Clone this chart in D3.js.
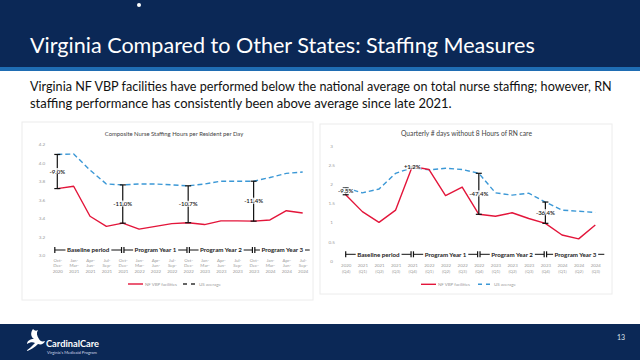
<!DOCTYPE html>
<html><head><meta charset="utf-8">
<script src="https://cdn.jsdelivr.net/npm/d3@7"></script>
<style>
html,body{margin:0;padding:0;background:#fff;}
svg{display:block;font-family:Lato, "Open Sans", sans-serif;}
</style></head>
<body>
<svg id="c" width="640" height="360"></svg>
<script>
// ---------- DATA ----------
const titleText = "Virginia Compared to Other States: Staffing Measures";
const bodyLines = [
  "Virginia NF VBP facilities have performed below the national average on total nurse staffing; however, RN",
  "staffing performance has consistently been above average since late 2021."
];
const leftTitle = "Composite Nurse Staffing Hours per Resident per Day";
const rightTitle = "Quarterly # days without 8 Hours of RN care";
const seriesNames = ["NF VBP facilities", "US average"];

const leftCategories = [
  ["Oct-","Dec-","2020"],["Jan-","Mar-","2021"],["Apr-","Jun-","2021"],["Jul-","Sep-","2021"],
  ["Oct-","Dec-","2021"],["Jan-","Mar-","2022"],["Apr-","Jun-","2022"],["Jul-","Sep-","2022"],
  ["Oct-","Dec-","2022"],["Jan-","Mar-","2023"],["Apr-","Jun-","2023"],["Jul-","Sep-","2023"],
  ["Oct-","Dec-","2023"],["Jan-","Mar-","2024"],["Apr-","Jun-","2024"],["Jul-","Sep-","2024"]
];
const leftVA = [3.72,3.745,3.42,3.31,3.345,3.28,3.31,3.34,3.35,3.33,3.37,3.37,3.367,3.38,3.48,3.455];
const leftUS = [4.09,4.095,3.92,3.77,3.76,3.77,3.77,3.76,3.75,3.77,3.80,3.80,3.80,3.84,3.885,3.90];
const leftTicks = [3.0,3.2,3.4,3.6,3.8,4.0,4.2];
const leftGaps = [
  {i:0, label:"-9.0%"}, {i:4, label:"-11.0%"}, {i:8, label:"-10.7%"}, {i:12, label:"-11.4%"}
];

const rightCategories = [
  ["2020","(Q4)"],["2021","(Q1)"],["2021","(Q2)"],["2021","(Q3)"],["2021","(Q4)"],
  ["2022","(Q1)"],["2022","(Q2)"],["2022","(Q3)"],["2022","(Q4)"],["2023","(Q1)"],
  ["2023","(Q2)"],["2023","(Q3)"],["2023","(Q4)"],["2024","(Q1)"],["2024","(Q2)"],["2024","(Q3)"]
];
const rightVA = [1.72,1.28,1.00,1.32,2.46,2.38,1.70,1.92,1.21,1.16,1.25,1.10,0.975,0.67,0.57,0.93];
const rightUS = [1.90,1.77,1.87,2.28,2.43,2.37,2.41,2.38,2.28,1.77,1.71,1.76,1.53,1.32,1.29,1.26];
const rightTicks = [0,0.5,1,1.5,2,2.5,3];
const rightGaps = [
  {i:0, label:"-9.5%"}, {i:4, label:"+1.2%"}, {i:8, label:"-47.4%"}, {i:12, label:"-36.4%"}
];

const periods = [
  {name:"Baseline period", from:0, to:4},
  {name:"Program Year 1", from:4, to:8},
  {name:"Program Year 2", from:8, to:12},
  {name:"Program Year 3", from:12, to:16}
];

// ---------- STYLE ----------
const NAVY = "#0b2856";
const RED = "#e3153a";
const BLUE = "#3b98d6";
const GREY = "#9a9a9a";

const svg = d3.select("#c");

function fitWidth(sel, w){
  const n = sel.node();
  const fs = parseFloat(sel.attr("font-size"));
  const len = n.getComputedTextLength();
  if (len > 0) sel.attr("font-size", fs * w / len);
  return sel;
}

// header
svg.append("rect").attr("x",0).attr("y",0).attr("width",640).attr("height",68).attr("fill",NAVY);
svg.append("rect").attr("x",0).attr("y",67).attr("width",640).attr("height",4).attr("fill","#1f6db3");
fitWidth(svg.append("text").attr("x",30).attr("y",53).attr("fill","#fff")
  .attr("font-size",24).text(titleText), 505);

// cursor dot
svg.append("circle").attr("cx",139).attr("cy",5).attr("r",2).attr("fill","#fff");

// body text
const bodyW = [582, 422];
bodyLines.forEach((t,k)=>{
  fitWidth(svg.append("text").attr("x",30).attr("y",91 + k*17).attr("fill","#111")
    .attr("font-size",13).text(t), bodyW[k]);
});

// footer
svg.append("rect").attr("x",0).attr("y",324).attr("width",640).attr("height",36).attr("fill",NAVY);
svg.append("path").attr("fill","#fff")
  .attr("d","M33,329 C30,333 31,337 34,339 C30,339 27,341 27,344 C30,342 33,342 35,343 C32,346 29,349 26,351 C31,350 35,347 38,344 C41,345 44,344 45,341 C42,342 40,341 39,339 C37,336 36,333 38,330 C36,331 35,331 33,329 Z");
fitWidth(svg.append("text").attr("x",46).attr("y",347).attr("fill","#fff").attr("font-weight",700)
  .attr("font-size",10).text("CardinalCare"), 53);
fitWidth(svg.append("text").attr("x",47).attr("y",354).attr("fill","#cfd8e6")
  .attr("font-size",3.5).text("Virginia's Medicaid Program"), 50);
svg.append("text").attr("x",621).attr("y",340).attr("fill","#dde4ee").attr("font-size",7)
  .attr("text-anchor","middle").text("13");

// panels
svg.append("rect").attr("x",22).attr("y",122).attr("width",291).attr("height",178)
  .attr("fill","#fff").attr("stroke","#ececec").attr("stroke-width",1);
svg.append("rect").attr("x",320).attr("y",124).attr("width",292).attr("height",170)
  .attr("fill","#fff").attr("stroke","#ececec").attr("stroke-width",1);

function drawChart(cfg){
  const g = svg.append("g");
  const idx = d3.range(cfg.cats.length);
  const x = d3.scalePoint().domain(idx).range(cfg.xr);
  const y = d3.scaleLinear().domain(cfg.yd).range(cfg.yr);

  // title
  fitWidth(g.append("text").attr("x",cfg.titleX).attr("y",cfg.titleY).attr("text-anchor","middle")
    .attr("fill","#444").attr("font-size",6).text(cfg.title), cfg.titleW);

  // y axis labels
  const ya = g.append("g").attr("transform",`translate(${cfg.yLabelX},0)`)
    .call(d3.axisLeft(y).tickValues(cfg.ticks).tickSize(0).tickFormat(cfg.fmt));
  ya.select(".domain").remove();
  ya.selectAll("text").attr("fill",GREY).attr("font-size",4.6).attr("text-anchor","middle")
    .attr("x",0).attr("font-family","Lato, sans-serif");

  // x axis labels
  const xa = g.append("g").attr("transform",`translate(0,${cfg.xLabelY})`)
    .call(d3.axisBottom(x).tickSize(0).tickFormat(""));
  xa.select(".domain").remove();
  xa.selectAll(".tick text").each(function(d){
    const t = d3.select(this).attr("fill",GREY).attr("font-size",4.4).attr("y",0).attr("dy",0)
      .attr("font-family","Lato, sans-serif");
    cfg.cats[d].forEach((s,k)=>{
      t.append("tspan").attr("x",0).attr("y",k*cfg.lineH).text(s);
    });
  });

  // lines
  const line = d3.line().x((d,i)=>x(i)).y(d=>y(d));
  g.append("path").datum(cfg.us).attr("d",line).attr("fill","none").attr("stroke",BLUE)
    .attr("stroke-width",1.4).attr("stroke-dasharray","5,3");
  g.append("path").datum(cfg.va).attr("d",line).attr("fill","none").attr("stroke",RED)
    .attr("stroke-width",1.4).attr("stroke-linejoin","round");

  // gap bars
  cfg.gaps.forEach(gp=>{
    const xx = x(gp.i), y1 = y(cfg.us[gp.i]), y2 = y(cfg.va[gp.i]);
    g.append("line").attr("x1",xx).attr("x2",xx).attr("y1",y1).attr("y2",y2)
      .attr("stroke","#111").attr("stroke-width",1.2);
    [y1,y2].forEach(yy=>g.append("line").attr("x1",xx-3).attr("x2",xx+3).attr("y1",yy).attr("y2",yy)
      .attr("stroke","#111").attr("stroke-width",1.2));
    const lab = g.append("text").attr("x",xx).attr("y",(y1+y2)/2+2).attr("text-anchor","middle")
      .attr("font-size",cfg.gapFont).attr("font-weight",600).attr("fill","#111").text(gp.label);
    const bb = lab.node().getBBox();
    g.insert("rect", function(){ return lab.node(); })
      .attr("x",bb.x-0.5).attr("y",bb.y+0.5).attr("width",bb.width+1).attr("height",bb.height-1)
      .attr("fill","#fff").attr("fill-opacity",0.85);
  });

  // period timeline
  const step = x.step();
  const ty = cfg.timelineY;
  const px = i => i >= cfg.cats.length ? x(cfg.cats.length-1) + cfg.endExtra : x(i);
  periods.forEach((p,k)=>{
    const xa0 = (k===0 ? x(p.from) - cfg.startShift : px(p.from) + 1.2);
    const xa1 = (k===periods.length-1 ? px(p.to) : px(p.to) - 1.2);
    g.append("line").attr("x1",xa0).attr("x2",xa1).attr("y1",ty).attr("y2",ty)
      .attr("stroke","#111").attr("stroke-width",1);
    g.append("line").attr("x1",xa0).attr("x2",xa0).attr("y1",ty-3).attr("y2",ty+3)
      .attr("stroke","#111").attr("stroke-width",1.2);
    if (k < periods.length-1)
      g.append("line").attr("x1",xa1).attr("x2",xa1).attr("y1",ty-3).attr("y2",ty+3)
        .attr("stroke","#111").attr("stroke-width",1.2);
    const t = g.append("text").attr("x",(xa0+xa1)/2).attr("y",ty+2.2).attr("text-anchor","middle")
      .attr("font-size",6.2).attr("font-weight",700).attr("fill","#222").text(p.name);
    const bb = t.node().getBBox();
    g.insert("rect", function(){ return t.node(); })
      .attr("x",bb.x-1.5).attr("y",ty-2).attr("width",bb.width+3).attr("height",4).attr("fill","#fff");
  });

  // legend
  const ly = cfg.legendY;
  g.append("line").attr("x1",cfg.legX).attr("x2",cfg.legX+15).attr("y1",ly).attr("y2",ly)
    .attr("stroke",RED).attr("stroke-width",1.4);
  g.append("text").attr("x",cfg.legX+17).attr("y",ly+1.5).attr("font-size",4.4).attr("fill",GREY)
    .text(seriesNames[0]);
  g.append("line").attr("x1",cfg.legX2).attr("x2",cfg.legX2+13).attr("y1",ly).attr("y2",ly)
    .attr("stroke",BLUE).attr("stroke-width",1.4).attr("stroke-dasharray","4,4")
    .attr("stroke", cfg.legDashColor);
  g.append("text").attr("x",cfg.legX2+16).attr("y",ly+1.5).attr("font-size",4.4).attr("fill",GREY)
    .text(seriesNames[1]);
}

drawChart({
  cats:leftCategories, va:leftVA, us:leftUS, ticks:leftTicks, gaps:leftGaps,
  xr:[57.3,302.7], yd:[3.0,4.2], yr:[255,144.3], fmt:d3.format(".1f"),
  title:leftTitle, titleX:174, titleY:135.5, titleW:139, yLabelX:42,
  xLabelY:261.5, lineH:5.6, timelineY:250, startShift:2.5, endExtra:7,
  legendY:284, legX:128, legX2:183, gapFont:6, legDashColor:"#333"
});
drawChart({
  cats:rightCategories, va:rightVA, us:rightUS, ticks:rightTicks, gaps:rightGaps,
  xr:[345.7,595.3], yd:[0,3], yr:[260.7,145.7], fmt:d3.format(""),
  title:rightTitle, titleX:466.5, titleY:135.5, titleW:131, yLabelX:331.7,
  xLabelY:267, lineH:5.6, timelineY:254.3, startShift:0, endExtra:9,
  legendY:284.3, legX:421, legX2:478, gapFont:6, legDashColor:BLUE
});
</script>
</body></html>
